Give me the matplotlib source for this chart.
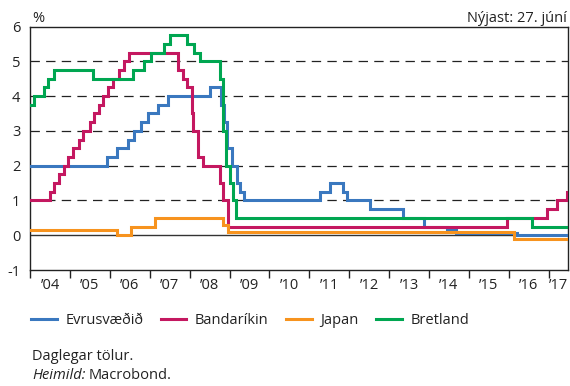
import matplotlib
matplotlib.use("Agg")
import matplotlib.pyplot as plt
from matplotlib.lines import Line2D
import pandas as pd

plt.rcParams['font.family'] = ['Open Sans', 'DejaVu Sans']

# ---- data (policy rates, %) ----
ecb_dates = ["2004-01-01", "2005-12-06", "2006-03-08", "2006-06-15", "2006-08-09", "2006-10-11",
             "2006-12-13", "2007-03-14", "2007-06-13", "2008-07-09", "2008-10-15", "2008-11-12",
             "2008-12-10", "2009-01-21", "2009-03-11", "2009-04-08", "2009-05-13", "2011-04-13",
             "2011-07-13", "2011-11-09", "2011-12-14", "2012-07-11", "2013-05-08", "2013-11-13",
             "2014-06-11", "2014-09-10", "2016-03-16", "2017-06-27"]
ecb_vals = [2.00, 2.25, 2.50, 2.75, 3.00, 3.25, 3.50, 3.75, 4.00, 4.25, 3.75, 3.25, 2.50, 2.00,
            1.50, 1.25, 1.00, 1.25, 1.50, 1.25, 1.00, 0.75, 0.50, 0.25, 0.15, 0.05, 0.00, 0.00]

us_dates = ["2004-01-01", "2004-06-30", "2004-08-10", "2004-09-21", "2004-11-10", "2004-12-14",
            "2005-02-02", "2005-03-22", "2005-05-03", "2005-06-30", "2005-08-09", "2005-09-20",
            "2005-11-01", "2005-12-13", "2006-01-31", "2006-03-28", "2006-05-10", "2006-06-29",
            "2007-09-18", "2007-10-31", "2007-12-11", "2008-01-22", "2008-01-30", "2008-03-18",
            "2008-04-30", "2008-10-08", "2008-10-29", "2008-12-16", "2015-12-16", "2016-12-14",
            "2017-03-15", "2017-06-14", "2017-06-27"]
us_vals = [1.00, 1.25, 1.50, 1.75, 2.00, 2.25, 2.50, 2.75, 3.00, 3.25, 3.50, 3.75, 4.00, 4.25,
           4.50, 4.75, 5.00, 5.25, 4.75, 4.50, 4.25, 3.50, 3.00, 2.25, 2.00, 1.50, 1.00, 0.25,
           0.50, 0.75, 1.00, 1.25, 1.25]

jp_dates = ["2004-01-01", "2006-03-09", "2006-07-14", "2007-02-21", "2008-10-31", "2008-12-19",
            "2016-02-16", "2017-06-27"]
jp_vals = [0.15, 0.00, 0.25, 0.50, 0.30, 0.10, -0.10, -0.10]

uk_dates = ["2004-01-01", "2004-02-05", "2004-05-06", "2004-06-10", "2004-08-05", "2005-08-04",
            "2006-08-03", "2006-11-09", "2007-01-11", "2007-05-10", "2007-07-05", "2007-12-06",
            "2008-02-07", "2008-04-10", "2008-10-08", "2008-11-06", "2008-12-04", "2009-01-08",
            "2009-02-05", "2009-03-05", "2016-08-04", "2017-06-27"]
uk_vals = [3.75, 4.00, 4.25, 4.50, 4.75, 4.50, 4.75, 5.00, 5.25, 5.50, 5.75, 5.50, 5.25, 5.00,
           4.50, 3.00, 2.00, 1.50, 1.00, 0.50, 0.25, 0.25]

series_names = ["Evrusvæðið", "Bandaríkin", "Japan", "Bretland"]
series_colors = ["#3a78bf", "#c41860", "#f7931e", "#00a651"]
years = list(range(2004, 2018))
y_ticks = [-1, 0, 1, 2, 3, 4, 5, 6]

W, H = 570, 386
fig = plt.figure(figsize=(W / 100, H / 100), dpi=100)
ax = fig.add_axes([30 / W, 1 - 270 / H, 538 / W, (270 - 26.5) / H])

all_series = [(ecb_dates, ecb_vals), (us_dates, us_vals), (jp_dates, jp_vals), (uk_dates, uk_vals)]
for (d, v), c in zip(all_series, series_colors):
    ax.step(pd.to_datetime(d), v, where="post", color=c, lw=2.2, solid_joinstyle="miter", zorder=3)

x0 = pd.Timestamp("2004-01-01")
x1 = pd.Timestamp("2017-06-27")
ax.set_xlim(x0, x1)
ax.set_ylim(-1, 6)

for yv in [1, 2, 3, 4, 5]:
    ax.axhline(yv, color="#222222", lw=0.9, ls=(0, (7.5, 5)), zorder=1)
ax.axhline(0, color="#333333", lw=1.0, zorder=2)

ax.set_yticks(y_ticks)
ax.set_yticklabels([str(t) for t in y_ticks])
ax.tick_params(axis="y", length=0, pad=7, labelsize=10.5, colors="#222222")

major = [pd.Timestamp(f"{y}-01-01") for y in years]
ax.set_xticks(major)
ax.set_xticklabels([])
ax.tick_params(axis="x", which="major", length=6, width=1, direction="out", color="#222222")
minor = []
for y in years:
    a = pd.Timestamp(f"{y}-01-01")
    b = min(pd.Timestamp(f"{y + 1}-01-01"), x1)
    minor.append(a + (b - a) / 2)
ax.set_xticks(minor, minor=True)
ax.set_xticklabels(["\u2019" + str(y)[2:] for y in years], minor=True)
ax.tick_params(axis="x", which="minor", length=0, pad=6, labelsize=10.5, colors="#222222")

for s in ax.spines.values():
    s.set_color("#222222")
    s.set_linewidth(1.0)

def fx(px):
    return px / W

def fy(py):
    return 1 - py / H

fig.text(fx(32), fy(21.5), "%", fontsize=10.5, va="baseline", ha="left", color="#222222")
fig.text(fx(567), fy(21.5), "Nýjast: 27. júní", fontsize=10.5, va="baseline", ha="right", color="#222222")

handles = [Line2D([], [], color=c, lw=2.2) for c in series_colors]
fig.legend(handles, series_names, loc="center left", bbox_to_anchor=(fx(31), fy(320.5)),
           ncol=4, frameon=False, fontsize=10.5, handlelength=1.75, handletextpad=0.6,
           columnspacing=1.2, borderaxespad=0, borderpad=0, labelcolor="#222222")

fig.text(fx(32), fy(360), "Daglegar tölur.", fontsize=10.5, va="baseline", ha="left", color="#222222")
t1 = fig.text(fx(32), fy(379), "Heimild:", fontsize=10.5, va="baseline", ha="left",
              style="italic", color="#222222")
fig.canvas.draw()
bb = t1.get_window_extent()
fig.text(bb.x1 / W + fx(3.5), fy(379), "Macrobond.", fontsize=10.5, va="baseline", ha="left",
         color="#222222")

fig.savefig("out.png", dpi=100)
